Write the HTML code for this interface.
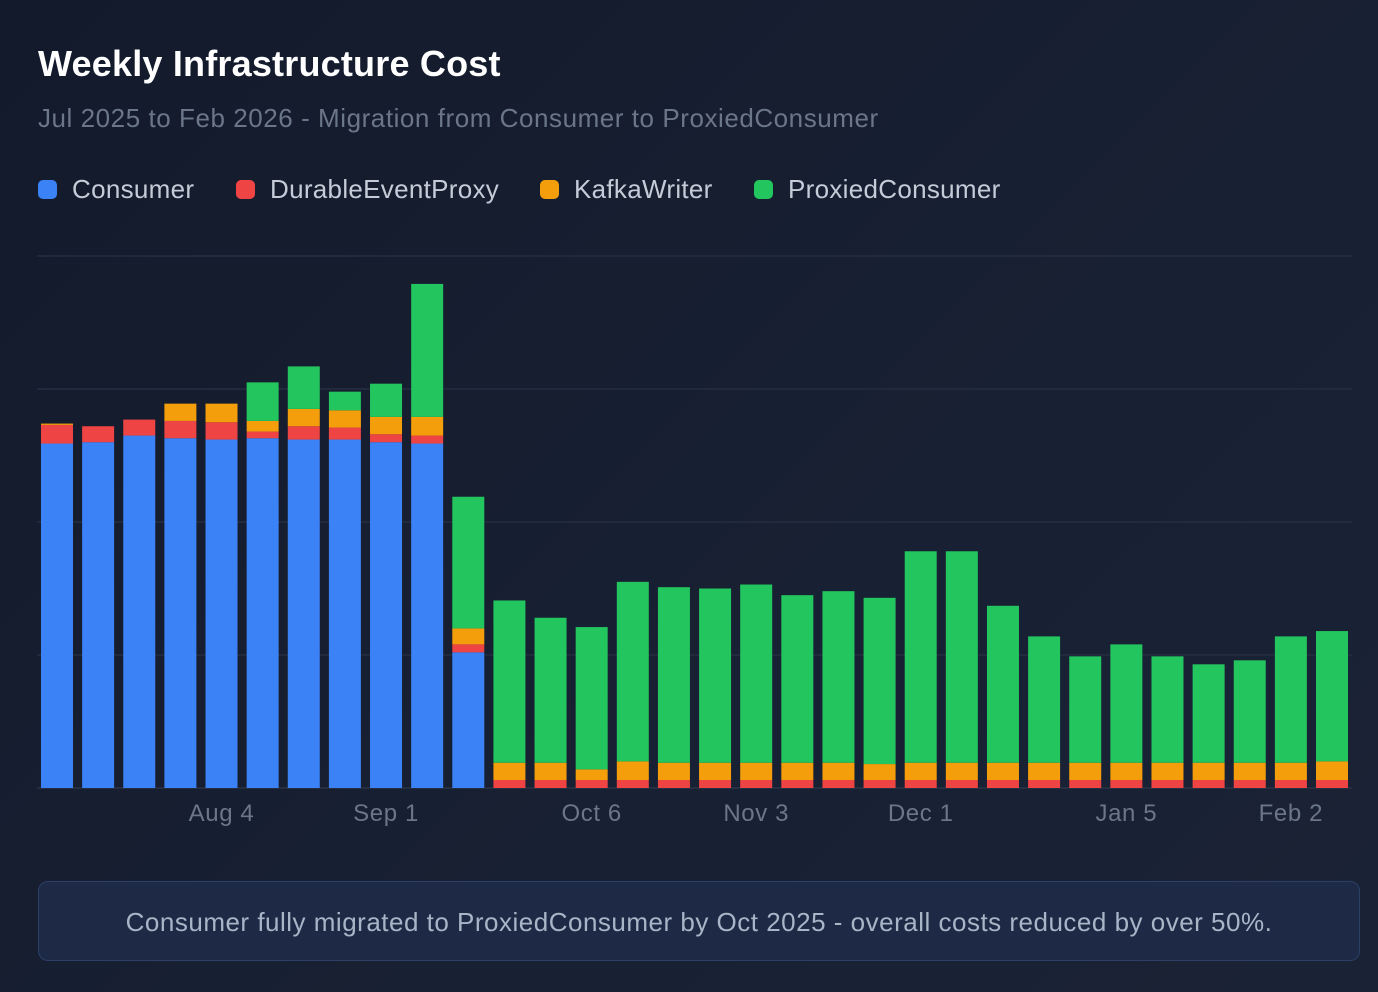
<!DOCTYPE html>
<html><head><meta charset="utf-8"><style>
html,body{margin:0;padding:0}
body{width:1378px;height:992px;background:linear-gradient(135deg,#121a2b 0%,#182033 60%,#1a2235 100%);font-family:"Liberation Sans",sans-serif;position:relative;overflow:hidden}
.title{position:absolute;left:38px;top:43px;font-size:36px;font-weight:bold;color:#ffffff;letter-spacing:0.2px}
.sub{position:absolute;left:38px;top:103px;font-size:26px;color:#6b7689;letter-spacing:0.55px}
.li{position:absolute;top:174px;display:flex;align-items:center;font-size:26px;color:#c5ccd8;letter-spacing:0.3px}
.dot{width:19px;height:19px;border-radius:5px;margin-right:15px}
.note{position:absolute;left:38px;top:881px;width:1322px;height:80px;border:1.5px solid #2b3f68;border-radius:10px;background:#1e2a45;color:#a9b4c7;font-size:26px;letter-spacing:0.5px;text-align:center;line-height:80px;box-sizing:border-box}
</style></head><body>
<div class="title">Weekly Infrastructure Cost</div>
<div class="sub">Jul 2025 to Feb 2026 - Migration from Consumer to ProxiedConsumer</div>
<div>
<div class="li" style="left:38px"><span class="dot" style="background:#3b82f6"></span>Consumer</div>
<div class="li" style="left:236px"><span class="dot" style="background:#ef4444"></span>DurableEventProxy</div>
<div class="li" style="left:540px"><span class="dot" style="background:#f59e0b"></span>KafkaWriter</div>
<div class="li" style="left:754px"><span class="dot" style="background:#22c55e"></span>ProxiedConsumer</div>
</div>
<svg id="chart" width="1378" height="992" style="position:absolute;left:0;top:0"></svg>
<div class="note">Consumer fully migrated to ProxiedConsumer by Oct 2025 - overall costs reduced by over 50%.</div>
<script>
const categories=["Jul 7","Jul 14","Jul 21","Jul 28","Aug 4","Aug 11","Aug 18","Aug 25","Sep 1","Sep 8","Sep 15","Sep 22","Sep 29","Oct 6","Oct 13","Oct 20","Oct 27","Nov 3","Nov 10","Nov 17","Nov 24","Dec 1","Dec 8","Dec 15","Dec 22","Dec 29","Jan 5","Jan 12","Jan 19","Jan 26","Feb 2","Feb 9"];
const consumer=[259,260,265,263,262,263,262,262,260,259,102,0,0,0,0,0,0,0,0,0,0,0,0,0,0,0,0,0,0,0,0,0];
const durableEventProxy=[14,12,12,13,13,5,10,9,6,6,6,6,6,6,6,6,6,6,6,6,6,6,6,6,6,6,6,6,6,6,6,6];
const kafkaWriter=[1,0,0,13,14,8,13,13,13,14,12,13,13,8,14,13,13,13,13,13,12,13,13,13,13,13,13,13,13,13,13,14];
const proxiedConsumer=[0,0,0,0,0,29,32,14,25,100,99,122,109,107,135,132,131,134,126,129,125,159,159,118,95,80,89,80,74,77,95,98];
const tickLabels=["Aug 4","Sep 1","Oct 6","Nov 3","Dec 1","Jan 5","Feb 2"];
const gridValues=[0,100,200,300,400];
const series=[[consumer,"#3b82f6","consumer"],[durableEventProxy,"#ef4444","durable-event-proxy"],[kafkaWriter,"#f59e0b","kafka-writer"],[proxiedConsumer,"#22c55e","proxied-consumer"]];
const svg=document.getElementById('chart');const NS="http://www.w3.org/2000/svg";
const x0=37,x1=1352,yBase=788,yTop=256,vMax=400,first=41,step=(1316-41)/31,bw=32;
const y=v=>yBase-(v/vMax)*(yBase-yTop);
const xb=i=>first+i*step;
function mk(t,a){const e=document.createElementNS(NS,t);for(const k in a)e.setAttribute(k,a[k]);svg.appendChild(e);return e;}
gridValues.forEach(g=>{const l=mk('line',{x1:x0,x2:x1,y1:y(g),y2:y(g),stroke:g===0?'#2a3346':'#252e41','stroke-width':1.5});

});
categories.forEach((c,i)=>{let acc=0;series.forEach(s=>{const v=s[0][i];if(v>0){const r=mk('rect',{x:xb(i),y:y(acc+v),width:bw,height:y(acc)-y(acc+v),fill:s[1]});

}acc+=v;});});
tickLabels.forEach(t=>{const i=categories.indexOf(t);const tx=mk('text',{x:xb(i)+bw/2,y:821,'text-anchor':'middle','font-size':24,'letter-spacing':0.6,fill:'#6b7689','font-family':'Liberation Sans, sans-serif'});tx.textContent=t;

});
</script>
</body></html>
